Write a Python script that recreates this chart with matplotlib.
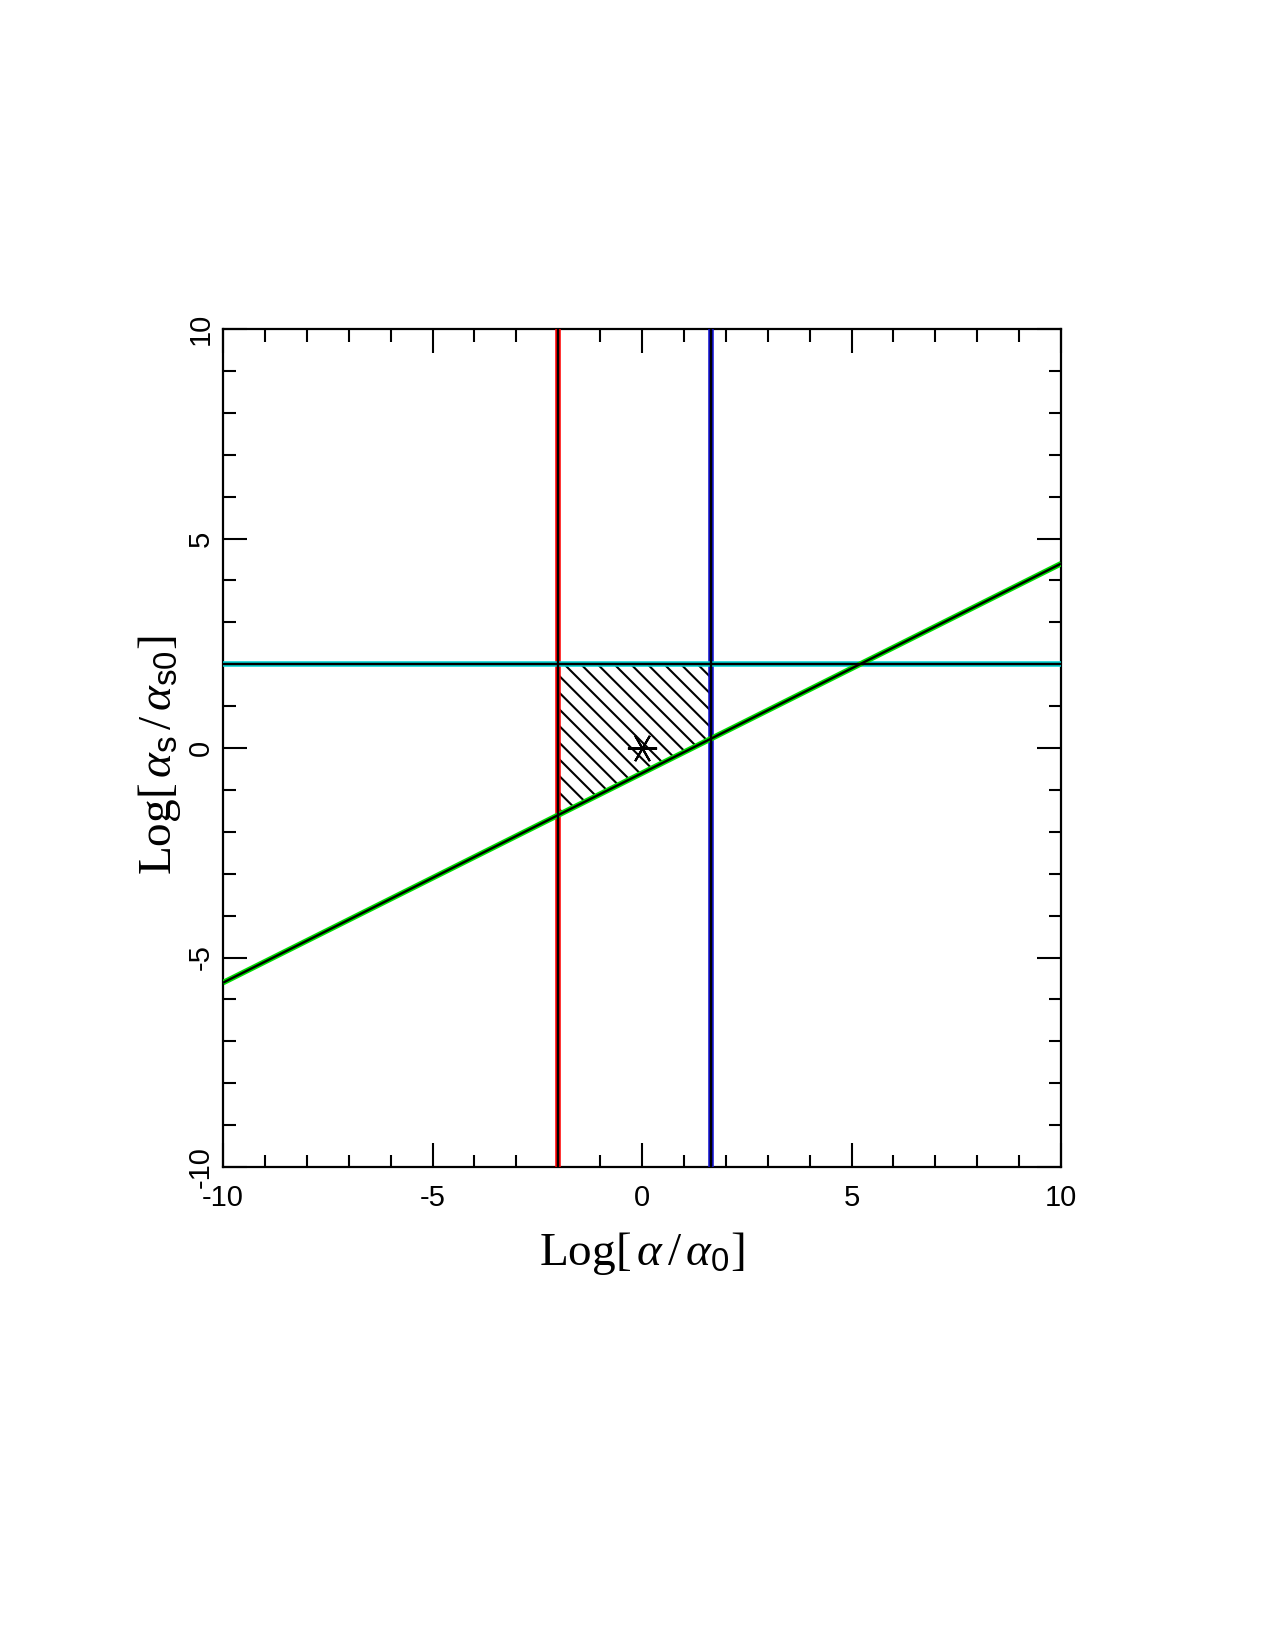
import numpy as np, matplotlib
matplotlib.use("Agg")
import matplotlib.pyplot as plt

plt.rcParams["axes.unicode_minus"] = False
plt.rcParams["mathtext.fontset"] = "custom"
plt.rcParams["mathtext.rm"] = "Liberation Serif"
plt.rcParams["mathtext.it"] = "Liberation Serif:italic"
plt.rcParams["mathtext.sf"] = "Liberation Sans"
plt.rcParams["hatch.linewidth"] = 1.5

# values
x_red = -2.0          # left vertical limit
x_blue = 1.65         # right vertical limit
y_cyan = 2.0          # horizontal limit
green_x = [-10.0, 10.0]
green_y = [-5.6, 4.4]
star_x, star_y = [0.0], [0.0]

fig = plt.figure(figsize=(12.75, 16.5), dpi=100)
ax = fig.add_axes([0.1749, 0.2927, 0.6573, 0.5079])

def cline(xs, ys, c):
    # coloured line with a black core
    ax.plot(xs, ys, color=c, lw=4.0, solid_capstyle="butt", zorder=3)
    ax.plot(xs, ys, color="black", lw=1.7, solid_capstyle="butt", zorder=4)

cline([x_red, x_red], [-10, 10], "red")
cline([x_blue, x_blue], [-10, 10], "#1010d0")
cline([-10, 10], [y_cyan, y_cyan], "#00d0d0")
cline(green_x, green_y, "#00e000")

# hatched allowed region
hx = np.linspace(x_red, x_blue, 50)
hy = np.interp(hx, green_x, green_y)
ax.fill_between(hx, hy, y_cyan, facecolor="none", edgecolor="black",
                hatch="\\\\", linewidth=0, zorder=2)

ax.plot(star_x, star_y, marker=(6, 2, 90), ms=21, mew=1.5, color="black",
        linestyle="none", zorder=5)

ax.set_xlim(-10, 10); ax.set_ylim(-10, 10)
ax.set_xticks([-10, -5, 0, 5, 10]); ax.set_yticks([-10, -5, 0, 5, 10])
ax.set_xticks(np.arange(-10, 11, 1), minor=True)
ax.set_yticks(np.arange(-10, 11, 1), minor=True)
ax.tick_params(which="both", direction="in", top=True, right=True, width=1.5, colors="black")
ax.tick_params(which="major", length=17)
ax.tick_params(which="minor", length=9)
ax.tick_params(axis="x", which="major", pad=12, labelsize=21)
ax.tick_params(axis="y", which="major", pad=6, labelsize=21)
for t in ax.get_xticklabels() + ax.get_yticklabels():
    t.set_fontfamily("Liberation Sans")
for t in ax.get_yticklabels():
    t.set_rotation(90); t.set_va("center")
for s in ax.spines.values():
    s.set_linewidth(1.6)

fig.text(0.5035, 1 - 1265/1650, r"$\mathrm{Log}[\,\alpha\,/\,\alpha_{\mathsf{0}}]$",
         ha="center", va="baseline", fontsize=34)
fig.text(183/1275, 1 - 755/1650, r"$\mathrm{Log}[\,\alpha_{\mathsf{s}}\,/\,\alpha_{\mathsf{s0}}]$",
         ha="right", va="center", rotation=90, fontsize=34)

fig.savefig("out.png", dpi=100, facecolor="white")
